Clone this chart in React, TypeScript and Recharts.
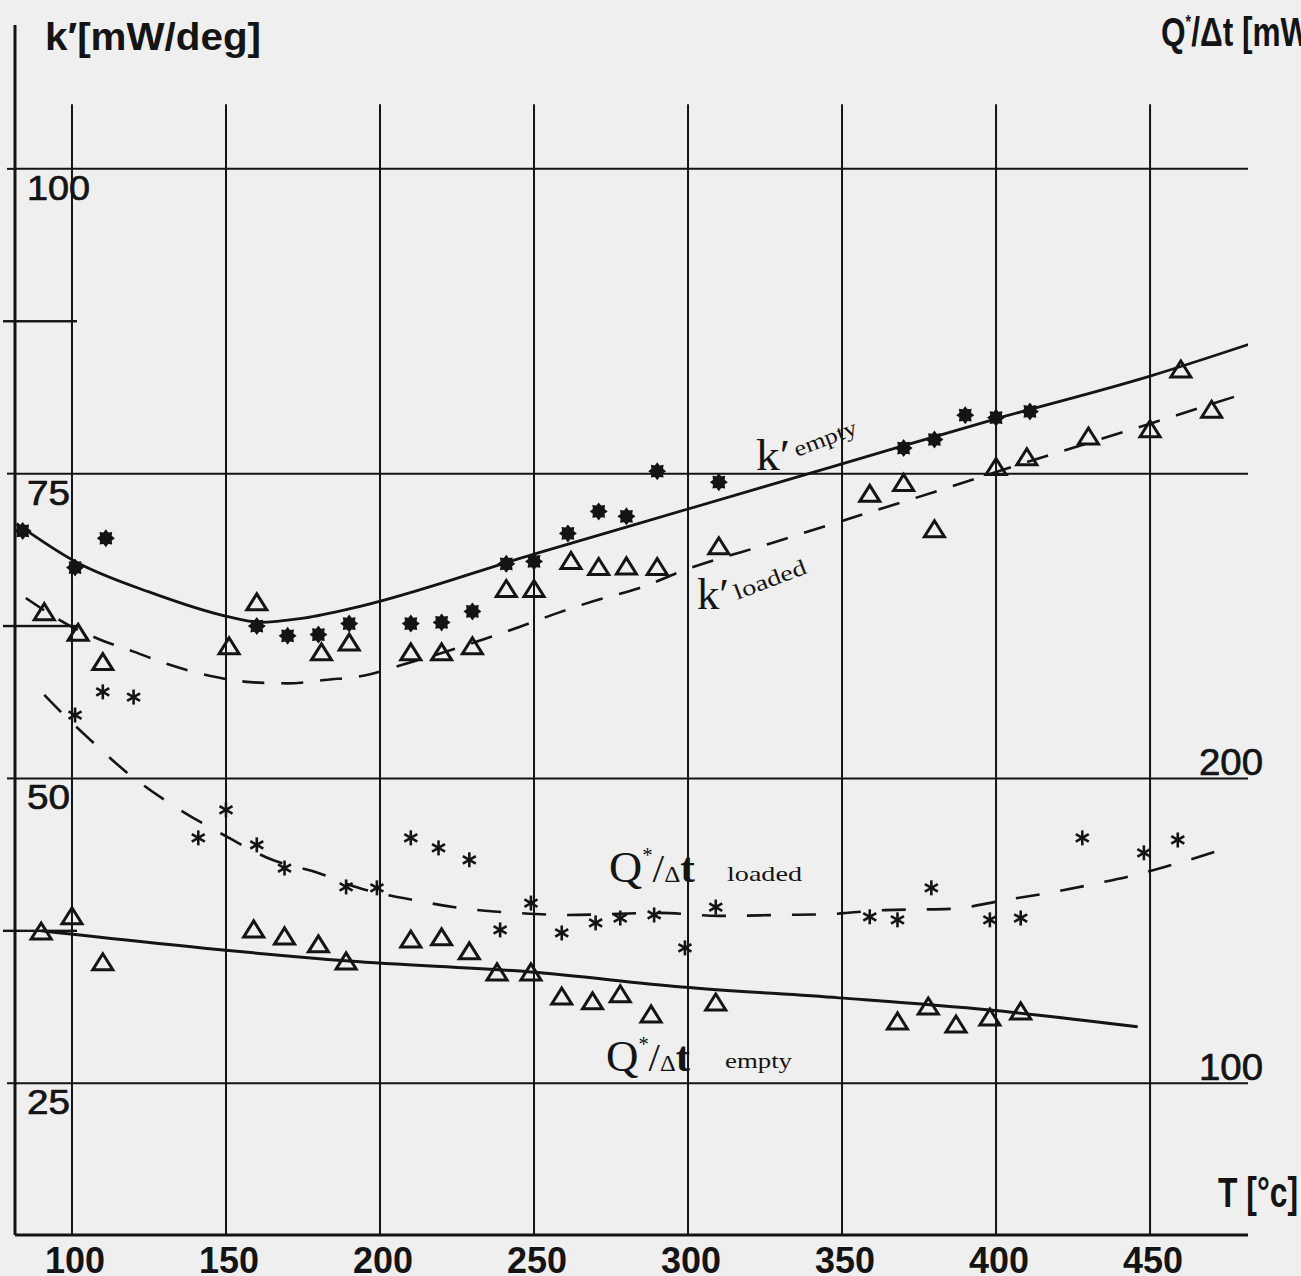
import React from 'react';
import { ComposedChart, XAxis, YAxis, Line, Scatter, ReferenceLine } from 'recharts';

// ---------- axes / ticks ----------
const TEMP_TICKS = [100, 150, 200, 250, 300, 350, 400, 450];
const K_TICKS = [25, 37.5, 50, 62.5, 75, 87.5, 100];
const K_GRID = [25, 50, 75, 100];
const Q_TICKS = [100, 200];

// ---------- measured points ----------
const kEmptyT = [84, 101, 111, 160, 170, 180, 190, 210, 220, 230, 241, 250, 261, 271, 280, 290, 310, 370, 380, 390, 400, 411];
const kEmptyK = [70.3, 67.3, 69.7, 62.5, 61.7, 61.8, 62.7, 62.7, 62.8, 63.7, 67.6, 67.8, 70.1, 71.9, 71.5, 75.2, 74.3, 77.1, 77.8, 79.8, 79.6, 80.1];

const kLoadedT = [91, 102, 110, 151, 160, 181, 190, 210, 220, 230, 241, 250, 262, 271, 280, 290, 310, 359, 370, 380, 400, 410, 430, 450, 460, 470];
const kLoadedK = [63.6, 61.9, 59.5, 60.8, 64.4, 60.3, 61.1, 60.3, 60.3, 60.8, 65.5, 65.5, 67.8, 67.3, 67.35, 67.3, 69.0, 73.3, 74.2, 70.4, 75.5, 76.3, 78.0, 78.6, 83.5, 80.2];

const qLoadedT = [101, 110, 120, 141, 150, 160, 169, 189, 199, 210, 219, 229, 239, 249, 259, 270, 278, 289, 299, 309, 359, 368, 379, 398, 408, 428, 448, 459];
const qLoadedQ = [220.8, 228.4, 226.7, 180.5, 189.7, 178.2, 170.6, 164.4, 164.1, 180.5, 177.2, 173.3, 150.3, 159.1, 149.3, 152.6, 154.2, 155.2, 144.4, 157.8, 154.6, 153.6, 164.1, 153.6, 154.2, 180.5, 175.6, 179.8];

const qEmptyT = [90, 100, 110, 159, 169, 180, 189, 210, 220, 229, 238, 249, 259, 269, 278, 288, 309, 368, 378, 387, 398, 408];
const qEmptyQ = [149.6, 154.6, 139.5, 150.3, 148.0, 145.4, 139.8, 147.0, 147.7, 143.1, 136.2, 136.2, 128.3, 126.7, 129.0, 122.4, 126.3, 120.1, 125.0, 119.1, 121.4, 123.4];

// ---------- fitted curves ----------
const kEmptyFitT = [82, 101, 125, 151, 161, 174, 190, 250, 300, 350, 400, 450, 482];
const kEmptyFitK = [70.9, 67.8, 65.3, 63.25, 62.8, 63.1, 63.9, 68.4, 72.1, 75.8, 79.5, 83.0, 85.6];

const kLoadedFitT = [85, 101, 109, 120, 132, 145, 158, 170, 183, 194, 207, 245, 258, 270, 284, 299, 327, 351, 380, 407, 450, 481];
const kLoadedFitK = [64.8, 62.3, 61.4, 60.4, 59.3, 58.4, 57.9, 57.8, 58.1, 58.4, 59.3, 62.4, 63.6, 64.6, 65.6, 67.1, 69.3, 71.2, 73.5, 75.7, 79.1, 81.6];

const qLoadedFitT = [91, 98, 106, 118, 133, 149, 165, 180, 193, 211, 228, 244, 260, 291, 310, 330, 346, 364, 385, 403, 419, 432, 445, 457, 475];
const qLoadedFitQ = [227.4, 220.2, 212.6, 201.8, 191.0, 181.6, 173.3, 169.0, 164.1, 160.1, 157.2, 155.9, 155.2, 155.9, 154.9, 155.2, 155.5, 156.8, 157.2, 160.1, 162.8, 165.4, 168.3, 171.6, 177.2];

const qEmptyFitT = [90, 149, 190, 249, 298, 349, 398, 446];
const qEmptyFitQ = [150.0, 143.7, 140.1, 136.5, 131.6, 128.0, 124.0, 118.5];

// ---------- domains ----------
const T_DOMAIN: [number, number] = [81.5, 481.8];
const K_DOMAIN: [number, number] = [12.55, 111.8];
const Q_DOMAIN: [number, number] = [K_DOMAIN[0] * 4, K_DOMAIN[1] * 4];
const GRID_TOP_K = 105.3;

const zip = (xs: number[], ys: number[], key: string) => xs.map((t, i) => ({ T: t, [key]: ys[i] }));

const kEmptyData = zip(kEmptyT, kEmptyK, 'k');
const kLoadedData = zip(kLoadedT, kLoadedK, 'k');
const qLoadedData = zip(qLoadedT, qLoadedQ, 'q');
const qEmptyData = zip(qEmptyT, qEmptyQ, 'q');
const kEmptyFit = zip(kEmptyFitT, kEmptyFitK, 'k');
const kLoadedFit = zip(kLoadedFitT, kLoadedFitK, 'k');
const qLoadedFit = zip(qLoadedFitT, qLoadedFitQ, 'q');
const qEmptyFit = zip(qEmptyFitT, qEmptyFitQ, 'q');

const INK = '#141414';
const SANS = "'Liberation Sans', Arial, sans-serif";
const SERIF = "'Liberation Serif', 'DejaVu Serif', serif";

// ---------- markers ----------
const FilledStar = (props: any) => {
  const { cx, cy } = props;
  if (cx == null || cy == null) return null;
  const pts: string[] = [];
  for (let i = 0; i < 16; i++) {
    const a = (Math.PI * 2 * i) / 16;
    const r = i % 2 === 0 ? 9 : 6.3;
    pts.push(`${cx + r * Math.cos(a)},${cy + r * Math.sin(a)}`);
  }
  return <polygon points={pts.join(' ')} fill={INK} />;
};

const OpenTriangle = (props: any) => {
  const { cx, cy } = props;
  if (cx == null || cy == null) return null;
  return (
    <polygon
      points={`${cx},${cy - 9} ${cx - 10},${cy + 7} ${cx + 10},${cy + 7}`}
      fill="none"
      stroke={INK}
      strokeWidth={3}
    />
  );
};

const Asterisk = (props: any) => {
  const { cx, cy } = props;
  if (cx == null || cy == null) return null;
  const r = 7.5;
  return (
    <g>
      {[90, 30, 150].map((deg) => {
        const a = (deg * Math.PI) / 180;
        return (
          <line
            key={deg}
            x1={cx - r * Math.cos(a)}
            y1={cy - r * Math.sin(a)}
            x2={cx + r * Math.cos(a)}
            y2={cy + r * Math.sin(a)}
            stroke={INK}
            strokeWidth={2.6}
          />
        );
      })}
    </g>
  );
};

// ---------- ticks ----------
const XTick = (props: any) => {
  const { x, y, payload } = props;
  return (
    <text
      x={x + 3}
      y={y + 38}
      textAnchor="middle"
      fontFamily={SANS}
      fontWeight={700}
      fontSize={37}
      textLength={60}
      lengthAdjust="spacingAndGlyphs"
      fill={INK}
    >
      {payload.value}
    </text>
  );
};

const AXIS_X = 15;

const KTick = (props: any) => {
  const { y, payload } = props;
  const x = AXIS_X;
  const v = Number(payload.value);
  if (v % 25 !== 0) {
    return <rect x={x - 12} y={y - 1.2} width={74} height={2.4} fill={INK} />;
  }
  const s = String(v);
  return (
    <g>
      <rect x={x - 8} y={y - 1} width={8} height={2} fill={INK} />
      <text
        x={x + 12}
        y={y + 31}
        textAnchor="start"
        fontFamily={SANS}
        fontSize={35}
        textLength={s.length === 3 ? 63 : 43}
        lengthAdjust="spacingAndGlyphs"
        fill={INK}
        stroke={INK}
        strokeWidth={0.7}
      >
        {s}
      </text>
    </g>
  );
};

const QTick = (props: any) => {
  const { x, y, payload } = props;
  return (
    <text
      x={x - 17}
      y={y - 3}
      textAnchor="middle"
      fontFamily={SANS}
      fontSize={37}
      textLength={64}
      lengthAdjust="spacingAndGlyphs"
      fill={INK}
      stroke={INK}
      strokeWidth={0.7}
    >
      {payload.value}
    </text>
  );
};

// ---------- text annotations ----------
const QdotLabel = ({ x, y, len }: { x: number; y: number; len: number }) => (
  <text x={x} y={y} fontFamily={SERIF} fontSize={44} textLength={len} lengthAdjust="spacingAndGlyphs" fill={INK}>
    Q<tspan fontSize={20} dy={-20}>*</tspan>
    <tspan dy={20} fontSize={40}>/</tspan>
    <tspan fontSize={24}>Δ</tspan>
    <tspan fontSize={42} fontWeight={700}>t</tspan>
  </text>
);

const Overlay = () => (
  <g>
    <text x={45} y={50} fontFamily={SANS} fontWeight={700} fontSize={39} textLength={216} lengthAdjust="spacingAndGlyphs" fill={INK}>
      k′[mW/deg]
    </text>
    <text x={1161} y={46} fontFamily={SANS} fontWeight={700} fontSize={40} textLength={160} lengthAdjust="spacingAndGlyphs" fill={INK}>
      Q<tspan fontSize={18} dy={-18}>*</tspan>
      <tspan dy={18}>/Δt [mW]</tspan>
    </text>
    <text x={1218} y={1207} fontFamily={SANS} fontWeight={700} fontSize={42} textLength={80} lengthAdjust="spacingAndGlyphs" fill={INK}>
      T [°c]
    </text>

    <text x={756} y={470} fontFamily={SERIF} fontSize={44} textLength={34} lengthAdjust="spacingAndGlyphs" fill={INK}>
      k′
    </text>
    <text x={797} y={457} fontFamily={SERIF} fontSize={22} textLength={66} lengthAdjust="spacingAndGlyphs" fill={INK} transform="rotate(-21 797 457)">
      empty
    </text>

    <text x={697} y={609} fontFamily={SERIF} fontSize={44} textLength={32} lengthAdjust="spacingAndGlyphs" fill={INK}>
      k′
    </text>
    <text x={737} y={600} fontFamily={SERIF} fontSize={22} textLength={76} lengthAdjust="spacingAndGlyphs" fill={INK} transform="rotate(-21 737 600)">
      loaded
    </text>

    <QdotLabel x={609} y={882} len={86} />
    <text x={727} y={881} fontFamily={SERIF} fontSize={22} textLength={75} lengthAdjust="spacingAndGlyphs" fill={INK}>
      loaded
    </text>

    <QdotLabel x={606} y={1071} len={84} />
    <text x={725} y={1068} fontFamily={SERIF} fontSize={22} textLength={67} lengthAdjust="spacingAndGlyphs" fill={INK}>
      empty
    </text>
  </g>
);

export default function App() {
  return (
    <div style={{ position: 'absolute', left: 0, top: 0, width: 1301, height: 1276, background: '#efefef' }}>
      <ComposedChart width={1301} height={1276} margin={{ top: 25, right: 0, bottom: 0, left: 0 }}>
        <XAxis
          dataKey="T"
          type="number"
          domain={T_DOMAIN}
          ticks={TEMP_TICKS}
          allowDataOverflow
          interval={0}
          height={41}
          tickSize={0}
          tickMargin={0}
          tickLine={false}
          axisLine={{ stroke: INK, strokeWidth: 3 }}
          tick={XTick}
          label={() => <Overlay />}
        />
        <YAxis
          yAxisId="k"
          type="number"
          domain={K_DOMAIN}
          ticks={K_TICKS}
          allowDataOverflow
          interval={0}
          width={AXIS_X}
          tickSize={0}
          tickMargin={0}
          tickLine={false}
          axisLine={{ stroke: INK, strokeWidth: 3 }}
          tick={KTick}
        />
        <YAxis
          yAxisId="q"
          orientation="right"
          type="number"
          domain={Q_DOMAIN}
          ticks={Q_TICKS}
          allowDataOverflow
          interval={0}
          width={53}
          tickSize={0}
          tickMargin={0}
          tickLine={false}
          axisLine={false}
          tick={QTick}
        />

        {K_GRID.map((v) => (
          <ReferenceLine key={`h${v}`} yAxisId="k" y={v} stroke={INK} strokeWidth={2} />
        ))}
        {TEMP_TICKS.map((t) => (
          <ReferenceLine
            key={`v${t}`}
            yAxisId="k"
            segment={[
              { x: t, y: K_DOMAIN[0] },
              { x: t, y: GRID_TOP_K },
            ]}
            stroke={INK}
            strokeWidth={2}
          />
        ))}

        <Line data={kEmptyFit} dataKey="k" yAxisId="k" type="monotone" stroke={INK} strokeWidth={2.8} dot={false} activeDot={false} isAnimationActive={false} />
        <Line data={kLoadedFit} dataKey="k" yAxisId="k" type="monotone" stroke={INK} strokeWidth={2.6} strokeDasharray="22 17" dot={false} activeDot={false} isAnimationActive={false} />
        <Line data={qLoadedFit} dataKey="q" yAxisId="q" type="monotone" stroke={INK} strokeWidth={2.6} strokeDasharray="24 21" dot={false} activeDot={false} isAnimationActive={false} />
        <Line data={qEmptyFit} dataKey="q" yAxisId="q" type="monotone" stroke={INK} strokeWidth={3} dot={false} activeDot={false} isAnimationActive={false} />

        <Scatter data={kEmptyData} dataKey="k" yAxisId="k" shape={FilledStar} isAnimationActive={false} />
        <Scatter data={kLoadedData} dataKey="k" yAxisId="k" shape={OpenTriangle} isAnimationActive={false} />
        <Scatter data={qLoadedData} dataKey="q" yAxisId="q" shape={Asterisk} isAnimationActive={false} />
        <Scatter data={qEmptyData} dataKey="q" yAxisId="q" shape={OpenTriangle} isAnimationActive={false} />
      </ComposedChart>
    </div>
  );
}
